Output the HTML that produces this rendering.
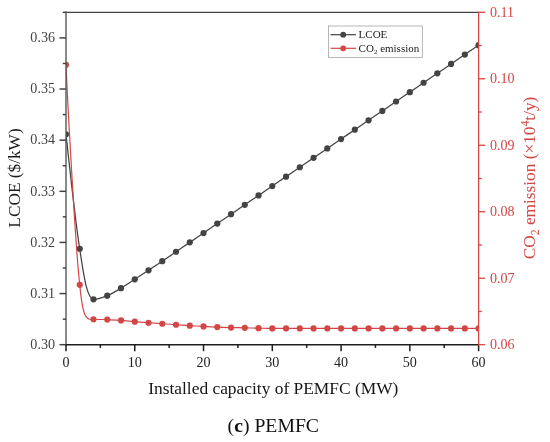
<!DOCTYPE html><html><head><meta charset="utf-8"><title>PEMFC</title><style>html,body{margin:0;padding:0;background:#fff}svg{display:block}text{font-family:"Liberation Serif","Times New Roman",serif}</style></head><body>
<svg width="550" height="442" viewBox="0 0 550 442">
<rect width="550" height="442" fill="#fff"/>
<defs><clipPath id="cp"><rect x="66.00" y="12.30" width="412.60" height="332.40"/></clipPath></defs>
<g clip-path="url(#cp)"><g transform="translate(0,0.35)">
<path d="M66,134 C69.5,166 75.5,222 79.7,248.4 C83.2,271 86.5,298.6 93.6,299 C98,299.3 102.5,297.3 107.26,295.30 C111.84,293.43 116.43,290.52 121.01,287.80 C125.60,285.08 130.18,281.97 134.77,279.00 C139.35,276.03 143.94,273.03 148.52,270.00 C153.10,266.97 157.69,263.90 162.27,260.80 C166.86,257.70 171.44,254.54 176.03,251.41 C180.61,248.28 185.20,245.15 189.78,242.02 C194.36,238.89 198.95,235.76 203.53,232.63 C208.12,229.50 212.70,226.37 217.29,223.24 C221.87,220.11 226.46,216.98 231.04,213.85 C235.62,210.72 240.21,207.59 244.79,204.46 C249.38,201.33 253.96,198.20 258.55,195.07 C263.13,191.94 267.72,188.81 272.30,185.68 C276.88,182.55 281.47,179.42 286.05,176.29 C290.64,173.16 295.22,170.03 299.81,166.90 C304.39,163.77 308.98,160.64 313.56,157.51 C318.14,154.38 322.73,151.25 327.31,148.12 C331.90,144.99 336.48,141.86 341.07,138.73 C345.65,135.60 350.24,132.47 354.82,129.34 C359.40,126.21 363.99,123.08 368.57,119.95 C373.16,116.82 377.74,113.69 382.33,110.56 C386.91,107.43 391.50,104.30 396.08,101.17 C400.66,98.04 405.25,94.91 409.83,91.78 C414.42,88.65 419.00,85.52 423.59,82.39 C428.17,79.26 432.76,76.13 437.34,73.00 C441.92,69.87 446.51,66.74 451.09,63.61 C455.68,60.48 460.26,57.35 464.85,54.22 C469.43,51.09 476.31,46.39 478.60,44.83" fill="none" stroke="#434343" stroke-width="1.25"/>
<circle cx="66.00" cy="134.00" r="3.1" fill="#434343"/>
<circle cx="79.75" cy="248.40" r="3.1" fill="#434343"/>
<circle cx="93.51" cy="299.00" r="3.1" fill="#434343"/>
<circle cx="107.26" cy="295.30" r="3.1" fill="#434343"/>
<circle cx="121.01" cy="287.80" r="3.1" fill="#434343"/>
<circle cx="134.77" cy="279.00" r="3.1" fill="#434343"/>
<circle cx="148.52" cy="270.00" r="3.1" fill="#434343"/>
<circle cx="162.27" cy="260.80" r="3.1" fill="#434343"/>
<circle cx="176.03" cy="251.41" r="3.1" fill="#434343"/>
<circle cx="189.78" cy="242.02" r="3.1" fill="#434343"/>
<circle cx="203.53" cy="232.63" r="3.1" fill="#434343"/>
<circle cx="217.29" cy="223.24" r="3.1" fill="#434343"/>
<circle cx="231.04" cy="213.85" r="3.1" fill="#434343"/>
<circle cx="244.79" cy="204.46" r="3.1" fill="#434343"/>
<circle cx="258.55" cy="195.07" r="3.1" fill="#434343"/>
<circle cx="272.30" cy="185.68" r="3.1" fill="#434343"/>
<circle cx="286.05" cy="176.29" r="3.1" fill="#434343"/>
<circle cx="299.81" cy="166.90" r="3.1" fill="#434343"/>
<circle cx="313.56" cy="157.51" r="3.1" fill="#434343"/>
<circle cx="327.31" cy="148.12" r="3.1" fill="#434343"/>
<circle cx="341.07" cy="138.73" r="3.1" fill="#434343"/>
<circle cx="354.82" cy="129.34" r="3.1" fill="#434343"/>
<circle cx="368.57" cy="119.95" r="3.1" fill="#434343"/>
<circle cx="382.33" cy="110.56" r="3.1" fill="#434343"/>
<circle cx="396.08" cy="101.17" r="3.1" fill="#434343"/>
<circle cx="409.83" cy="91.78" r="3.1" fill="#434343"/>
<circle cx="423.59" cy="82.39" r="3.1" fill="#434343"/>
<circle cx="437.34" cy="73.00" r="3.1" fill="#434343"/>
<circle cx="451.09" cy="63.61" r="3.1" fill="#434343"/>
<circle cx="464.85" cy="54.22" r="3.1" fill="#434343"/>
<circle cx="478.60" cy="44.83" r="3.1" fill="#434343"/>
<path d="M66,64.4 C68.5,120 75.5,245 79.7,284.5 C81.8,304 83.5,318.2 89.5,318.7 L93.51,318.90 L107.26,319.20 C111.84,319.40 116.43,319.75 121.01,320.10 C125.60,320.45 130.18,320.92 134.77,321.30 C139.35,321.68 143.94,322.05 148.52,322.40 C153.10,322.75 157.69,323.07 162.27,323.40 C166.86,323.73 171.44,324.08 176.03,324.40 C180.61,324.72 185.20,325.02 189.78,325.30 C194.36,325.58 198.95,325.87 203.53,326.10 C208.12,326.33 212.70,326.52 217.29,326.70 C221.87,326.88 226.46,327.07 231.04,327.20 C235.62,327.33 240.21,327.40 244.79,327.50 C249.38,327.60 253.96,327.70 258.55,327.80 C263.13,327.90 267.72,328.05 272.30,328.10 C276.88,328.15 281.47,328.10 286.05,328.10 C290.64,328.10 295.22,328.10 299.81,328.10 C304.39,328.10 308.98,328.10 313.56,328.10 C318.14,328.10 322.73,328.10 327.31,328.10 C331.90,328.10 336.48,328.10 341.07,328.10 C345.65,328.10 350.24,328.10 354.82,328.10 C359.40,328.10 363.99,328.10 368.57,328.10 C373.16,328.10 377.74,328.10 382.33,328.10 C386.91,328.10 391.50,328.10 396.08,328.10 C400.66,328.10 405.25,328.10 409.83,328.10 C414.42,328.10 419.00,328.10 423.59,328.10 C428.17,328.10 432.76,328.10 437.34,328.10 C441.92,328.10 446.51,328.10 451.09,328.10 C455.68,328.10 460.26,328.10 464.85,328.10 C469.43,328.10 476.31,328.10 478.60,328.10" fill="none" stroke="#d34646" stroke-width="1.2"/>
<circle cx="66.00" cy="64.40" r="3.1" fill="#d34646"/>
<circle cx="79.75" cy="284.50" r="3.1" fill="#d34646"/>
<circle cx="93.51" cy="318.90" r="3.1" fill="#d34646"/>
<circle cx="107.26" cy="319.20" r="3.1" fill="#d34646"/>
<circle cx="121.01" cy="320.10" r="3.1" fill="#d34646"/>
<circle cx="134.77" cy="321.30" r="3.1" fill="#d34646"/>
<circle cx="148.52" cy="322.40" r="3.1" fill="#d34646"/>
<circle cx="162.27" cy="323.40" r="3.1" fill="#d34646"/>
<circle cx="176.03" cy="324.40" r="3.1" fill="#d34646"/>
<circle cx="189.78" cy="325.30" r="3.1" fill="#d34646"/>
<circle cx="203.53" cy="326.10" r="3.1" fill="#d34646"/>
<circle cx="217.29" cy="326.70" r="3.1" fill="#d34646"/>
<circle cx="231.04" cy="327.20" r="3.1" fill="#d34646"/>
<circle cx="244.79" cy="327.50" r="3.1" fill="#d34646"/>
<circle cx="258.55" cy="327.80" r="3.1" fill="#d34646"/>
<circle cx="272.30" cy="328.10" r="3.1" fill="#d34646"/>
<circle cx="286.05" cy="328.10" r="3.1" fill="#d34646"/>
<circle cx="299.81" cy="328.10" r="3.1" fill="#d34646"/>
<circle cx="313.56" cy="328.10" r="3.1" fill="#d34646"/>
<circle cx="327.31" cy="328.10" r="3.1" fill="#d34646"/>
<circle cx="341.07" cy="328.10" r="3.1" fill="#d34646"/>
<circle cx="354.82" cy="328.10" r="3.1" fill="#d34646"/>
<circle cx="368.57" cy="328.10" r="3.1" fill="#d34646"/>
<circle cx="382.33" cy="328.10" r="3.1" fill="#d34646"/>
<circle cx="396.08" cy="328.10" r="3.1" fill="#d34646"/>
<circle cx="409.83" cy="328.10" r="3.1" fill="#d34646"/>
<circle cx="423.59" cy="328.10" r="3.1" fill="#d34646"/>
<circle cx="437.34" cy="328.10" r="3.1" fill="#d34646"/>
<circle cx="451.09" cy="328.10" r="3.1" fill="#d34646"/>
<circle cx="464.85" cy="328.10" r="3.1" fill="#d34646"/>
<circle cx="478.60" cy="328.10" r="3.1" fill="#d34646"/>
</g></g>
<g stroke="#434343" stroke-width="1.5" fill="none">
<path d="M66.00,11.60 V345.45" stroke="#505050" stroke-width="1.35"/>
<path d="M65.25,344.70 H478.60" stroke="#1e1e1e"/>
<path d="M66.00,12.30 H478.60" stroke-width="1.35"/>
<path d="M66.00,344.70 H59.50"/>
<path d="M66.00,319.13 H62.80"/>
<path d="M66.00,293.57 H59.50"/>
<path d="M66.00,268.00 H62.80"/>
<path d="M66.00,242.43 H59.50"/>
<path d="M66.00,216.87 H62.80"/>
<path d="M66.00,191.30 H59.50"/>
<path d="M66.00,165.73 H62.80"/>
<path d="M66.00,140.17 H59.50"/>
<path d="M66.00,114.60 H62.80"/>
<path d="M66.00,89.03 H59.50"/>
<path d="M66.00,63.47 H62.80"/>
<path d="M66.00,37.90 H59.50"/>
<path d="M66.00,12.33 H62.80"/>
<path d="M66.00,344.70 V351.20" stroke="#1e1e1e"/>
<path d="M100.38,344.70 V347.90" stroke="#1e1e1e"/>
<path d="M134.77,344.70 V351.20" stroke="#1e1e1e"/>
<path d="M169.15,344.70 V347.90" stroke="#1e1e1e"/>
<path d="M203.53,344.70 V351.20" stroke="#1e1e1e"/>
<path d="M237.92,344.70 V347.90" stroke="#1e1e1e"/>
<path d="M272.30,344.70 V351.20" stroke="#1e1e1e"/>
<path d="M306.68,344.70 V347.90" stroke="#1e1e1e"/>
<path d="M341.07,344.70 V351.20" stroke="#1e1e1e"/>
<path d="M375.45,344.70 V347.90" stroke="#1e1e1e"/>
<path d="M409.83,344.70 V351.20" stroke="#1e1e1e"/>
<path d="M444.22,344.70 V347.90" stroke="#1e1e1e"/>
<path d="M478.60,344.70 V351.20" stroke="#1e1e1e"/>
</g>
<g stroke="#d34646" stroke-width="1.3" fill="none">
<path d="M478.60,11.65 V345.45"/>
<path d="M478.60,344.70 H485.10"/>
<path d="M478.60,311.46 H481.80"/>
<path d="M478.60,278.22 H485.10"/>
<path d="M478.60,244.98 H481.80"/>
<path d="M478.60,211.74 H485.10"/>
<path d="M478.60,178.50 H481.80"/>
<path d="M478.60,145.26 H485.10"/>
<path d="M478.60,112.02 H481.80"/>
<path d="M478.60,78.78 H485.10"/>
<path d="M478.60,45.54 H481.80"/>
<path d="M478.60,12.30 H485.10"/>
</g>
<g font-size="14.1" fill="#444">
<text x="55.0" y="349.00" text-anchor="end">0.30</text>
<text x="55.0" y="297.87" text-anchor="end">0.31</text>
<text x="55.0" y="246.73" text-anchor="end">0.32</text>
<text x="55.0" y="195.60" text-anchor="end">0.33</text>
<text x="55.0" y="144.47" text-anchor="end">0.34</text>
<text x="55.0" y="93.33" text-anchor="end">0.35</text>
<text x="55.0" y="42.20" text-anchor="end">0.36</text>
<text x="66.00" y="366.75" text-anchor="middle" fill="#222">0</text>
<text x="134.77" y="366.75" text-anchor="middle" fill="#222">10</text>
<text x="203.53" y="366.75" text-anchor="middle" fill="#222">20</text>
<text x="272.30" y="366.75" text-anchor="middle" fill="#222">30</text>
<text x="341.07" y="366.75" text-anchor="middle" fill="#222">40</text>
<text x="409.83" y="366.75" text-anchor="middle" fill="#222">50</text>
<text x="478.60" y="366.75" text-anchor="middle" fill="#222">60</text>
</g>
<g font-size="14.1" fill="#d34646">
<text x="490" y="349.30">0.06</text>
<text x="490" y="282.82">0.07</text>
<text x="490" y="216.34">0.08</text>
<text x="490" y="149.86">0.09</text>
<text x="490" y="83.38">0.10</text>
<text x="490" y="16.90">0.11</text>
</g>
<text x="273.3" y="394.2" font-size="17.4" text-anchor="middle" fill="#151515">Installed capacity of PEMFC (MW)</text>
<text transform="translate(19.5,178) rotate(-90)" font-size="17.3" text-anchor="middle" fill="#1c1c1c">LCOE ($/kW)</text>
<text transform="translate(535.3,178.0) rotate(-90)" font-size="17.3" text-anchor="middle" fill="#d34646">CO<tspan font-size="11.8" dy="3.5">2</tspan><tspan dy="-3.5"> emission (×10</tspan><tspan font-size="11.8" dy="-6.5">4</tspan><tspan dy="6.5">t/y)</tspan></text>
<text x="273.3" y="432" font-size="19.7" text-anchor="middle" fill="#111">(<tspan font-weight="bold">c</tspan>) PEMFC</text>
<rect x="328.6" y="26" width="93.7" height="31.5" fill="#fff" stroke="#999" stroke-width="0.7"/>
<path d="M330.5,34.7 H356" stroke="#434343" stroke-width="1.2"/><circle cx="343.2" cy="34.7" r="2.9" fill="#434343"/>
<path d="M330.5,48.3 H356" stroke="#d34646" stroke-width="1.2"/><circle cx="343.2" cy="48.3" r="2.9" fill="#d34646"/>
<text x="358.6" y="38.2" font-size="11" fill="#1a1a1a">LCOE</text>
<text x="358.6" y="51.7" font-size="11" fill="#1a1a1a">CO<tspan font-size="7" dy="2">2</tspan><tspan dy="-2"> emission</tspan></text>
</svg></body></html>
